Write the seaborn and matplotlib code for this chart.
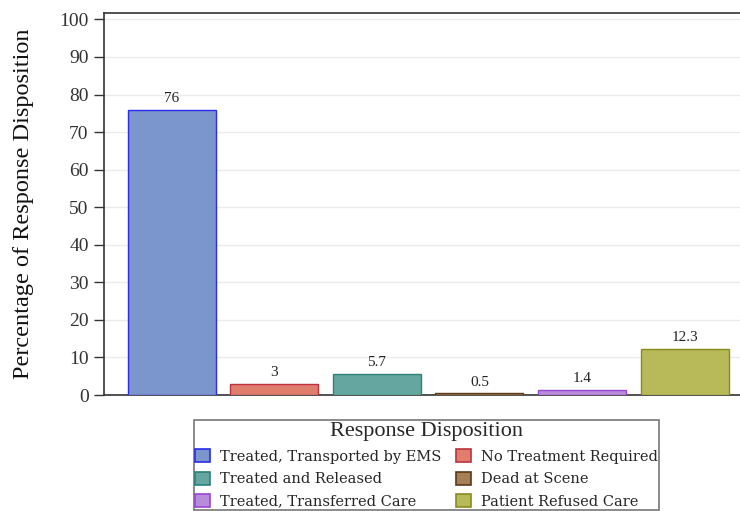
import matplotlib
matplotlib.use('Agg')
import matplotlib.pyplot as plt
import seaborn as sns
import pandas as pd
from matplotlib.patches import Patch

# 데이터
categories = ['Treated, Transported by EMS', 'No Treatment Required',
              'Treated and Released', 'Dead at Scene',
              'Treated, Transferred Care', 'Patient Refused Care']
percentages = [76, 3, 5.7, 0.5, 1.4, 12.3]
value_labels = ['76', '3', '5.7', '0.5', '1.4', '12.3']
y_ticks = [0, 10, 20, 30, 40, 50, 60, 70, 80, 90, 100]

fill_colors = ['#7B96CC', '#E07E6E', '#66A6A0', '#A57F55', '#B88CD8', '#B8BA5A']
edge_colors = ['#2A2AF0', '#C0303F', '#2A807A', '#5A3A18', '#9A44D8', '#8A8A1E']

df = pd.DataFrame({'Response Disposition': categories, 'Percent': percentages})

sns.set_style('white')
plt.rcParams['font.family'] = ['Liberation Serif', 'DejaVu Serif']

fig = plt.figure(figsize=(7.4, 5.11), dpi=100)
ax = fig.add_axes([104 / 740, 1 - 395 / 511, 1 - 104 / 740, 382 / 511])

sns.barplot(data=df, x='Response Disposition', y='Percent',
            hue='Response Disposition', palette=fill_colors, saturation=1,
            order=categories, hue_order=categories,
            dodge=False, width=0.857, legend=False, ax=ax, zorder=3)

for bar, ec, lab in zip(ax.patches, edge_colors, value_labels):
    bar.set_edgecolor(ec)
    bar.set_linewidth(1.0)
    ax.text(bar.get_x() + bar.get_width() / 2, bar.get_height() + 1.2, lab,
            ha='center', va='bottom', fontsize=11, color='#222222')

ax.set_ylim(0, 101.7)
ax.set_xlim(-0.66, 5.54)
ax.set_yticks(y_ticks)
ax.set_yticklabels([str(t) for t in y_ticks], fontsize=14, color='#333333')
ax.set_xticks([])
ax.set_xlabel('')
ax.set_ylabel('Percentage of Response Disposition', fontsize=17.5, color='#111111', labelpad=18)
ax.yaxis.grid(True, color='#EBEBEB', linewidth=1, zorder=0)
ax.set_axisbelow(True)
ax.tick_params(axis='y', length=7, width=1, color='#333333', direction='out', left=True, pad=4)
for side in ['left', 'top', 'bottom']:
    ax.spines[side].set_color('#333333')
    ax.spines[side].set_linewidth(1.2)
ax.spines['right'].set_visible(False)

handles = [Patch(facecolor=fc, edgecolor=ec, linewidth=1.2) for fc, ec in zip(fill_colors, edge_colors)]
order = [0, 2, 4, 1, 3, 5]
leg = fig.legend([handles[i] for i in order], [categories[i] for i in order],
                 title='Response Disposition', ncol=2,
                 loc='upper center', bbox_to_anchor=(426.5 / 740, 1 - 413 / 511),
                 frameon=True, fancybox=False, edgecolor='#555555',
                 prop={'family': 'DejaVu Serif', 'size': 10.5},
                 title_fontsize=16, handlelength=1.0, handleheight=1.0,
                 handletextpad=0.7, columnspacing=1.0, labelspacing=0.55,
                 borderpad=0.12)
leg.get_title().set_family(['Liberation Serif', 'DejaVu Serif'])
leg.get_frame().set_linewidth(1.2)

fig.savefig('out.png', dpi=100)
plt.close(fig)
